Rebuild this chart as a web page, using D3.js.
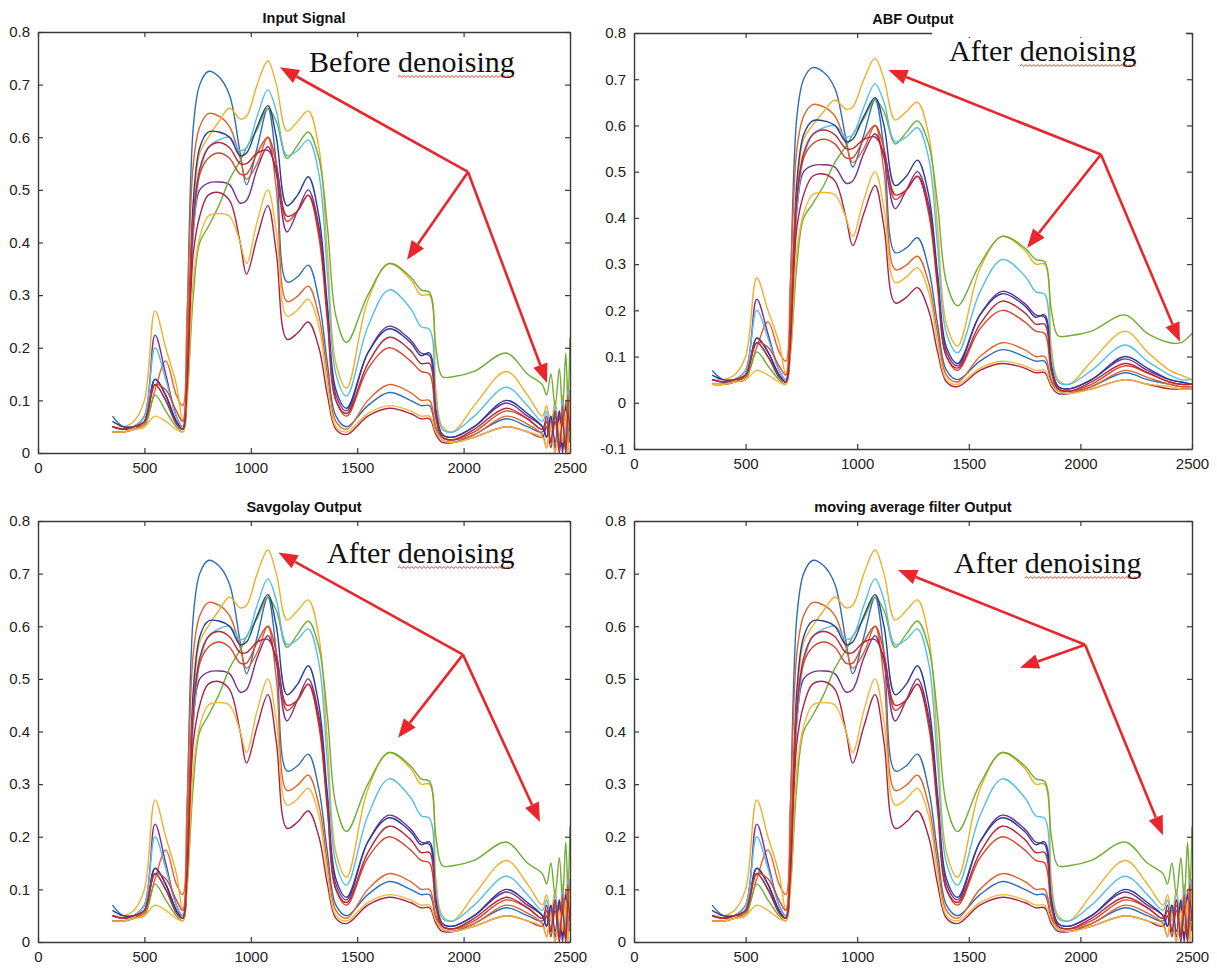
<!DOCTYPE html>
<html>
<head>
<meta charset="utf-8">
<script src="https://cdn.jsdelivr.net/npm/d3@7"></script>
<style>
  body { margin: 0; background: #fff; }
  svg { display: block; font-family: "Liberation Sans", Arial, sans-serif; }
  .title { font-size: 14.5px; font-weight: bold; fill: #111; }
  .note { font-family: "Liberation Serif", "Times New Roman", serif; font-size: 30px; fill: #111; }
</style>
</head>
<body>
<svg id="chart" width="1217" height="971"></svg>
<script>
// wavelengths (nm) shared by every spectrum
const wavelengths = [350, 400, 450, 500, 550, 600, 650, 680, 700, 730,
                     760, 800, 850, 900, 950, 980, 1030, 1080, 1120, 1170,
                     1220, 1270, 1320, 1360, 1400, 1450, 1550, 1650, 1750, 1800,
                     1840, 1870, 1900, 1950, 2050, 2200, 2300, 2400, 2450, 2500];

// reflectance of each sample
const blueHigh = [0.07, 0.05, 0.05, 0.06, 0.13, 0.10, 0.06, 0.045, 0.25, 0.62,
                  0.70, 0.725, 0.715, 0.68, 0.57, 0.51, 0.58, 0.655, 0.55, 0.325,
                  0.335, 0.357, 0.29, 0.17, 0.07, 0.05, 0.09, 0.115, 0.10, 0.09,
                  0.09, 0.045, 0.025, 0.02, 0.035, 0.065, 0.05, 0.04, 0.035, 0.035];
const orangeLow = [0.04, 0.04, 0.045, 0.055, 0.12, 0.175, 0.11, 0.09, 0.25, 0.55,
                   0.62, 0.645, 0.64, 0.62, 0.56, 0.52, 0.55, 0.60, 0.50, 0.288,
                   0.298, 0.317, 0.26, 0.15, 0.06, 0.045, 0.10, 0.13, 0.115, 0.10,
                   0.10, 0.05, 0.03, 0.025, 0.035, 0.07, 0.055, 0.04, 0.035, 0.035];
const yellowTop = [0.05, 0.05, 0.06, 0.10, 0.27, 0.20, 0.13, 0.06, 0.15, 0.45,
                   0.57, 0.60, 0.63, 0.655, 0.635, 0.64, 0.70, 0.745, 0.70, 0.612,
                   0.63, 0.65, 0.58, 0.38, 0.17, 0.123, 0.29, 0.36, 0.33, 0.30,
                   0.30, 0.12, 0.05, 0.04, 0.09, 0.155, 0.11, 0.07, 0.06, 0.05];
const purple = [0.05, 0.045, 0.05, 0.07, 0.224, 0.15, 0.07, 0.05, 0.13, 0.42,
                0.50, 0.513, 0.515, 0.51, 0.475, 0.48, 0.54, 0.582, 0.53, 0.42,
                0.46, 0.50, 0.43, 0.27, 0.11, 0.08, 0.19, 0.241, 0.215, 0.19,
                0.185, 0.08, 0.035, 0.03, 0.05, 0.095, 0.07, 0.05, 0.045, 0.04];
const green = [0.04, 0.04, 0.045, 0.05, 0.11, 0.08, 0.05, 0.04, 0.10, 0.30,
               0.40, 0.43, 0.47, 0.52, 0.555, 0.58, 0.615, 0.655, 0.63, 0.56,
               0.585, 0.61, 0.56, 0.43, 0.26, 0.21, 0.30, 0.36, 0.335, 0.31,
               0.305, 0.20, 0.145, 0.145, 0.155, 0.19, 0.15, 0.13, 0.13, 0.15];
const lightBlue = [0.05, 0.045, 0.05, 0.07, 0.20, 0.14, 0.07, 0.05, 0.13, 0.42,
                   0.53, 0.58, 0.595, 0.60, 0.575, 0.58, 0.64, 0.69, 0.65, 0.565,
                   0.575, 0.595, 0.53, 0.34, 0.15, 0.108, 0.24, 0.31, 0.275, 0.24,
                   0.235, 0.10, 0.045, 0.04, 0.07, 0.125, 0.09, 0.06, 0.05, 0.05];
const darkRedLow = [0.05, 0.045, 0.05, 0.06, 0.14, 0.11, 0.06, 0.045, 0.12, 0.38,
                    0.45, 0.49, 0.495, 0.48, 0.40, 0.34, 0.41, 0.47, 0.38, 0.216,
                    0.228, 0.249, 0.20, 0.11, 0.045, 0.035, 0.07, 0.085, 0.075, 0.065,
                    0.065, 0.035, 0.02, 0.02, 0.03, 0.05, 0.04, 0.03, 0.03, 0.03];
const navy = [0.06, 0.05, 0.05, 0.06, 0.14, 0.11, 0.06, 0.045, 0.14, 0.48,
              0.58, 0.61, 0.61, 0.60, 0.565, 0.57, 0.62, 0.66, 0.60, 0.47,
              0.49, 0.525, 0.45, 0.28, 0.12, 0.085, 0.19, 0.236, 0.21, 0.185,
              0.19, 0.08, 0.035, 0.03, 0.05, 0.10, 0.075, 0.05, 0.045, 0.04];
const orangeRed = [0.04, 0.04, 0.045, 0.06, 0.13, 0.12, 0.08, 0.06, 0.18, 0.45,
                   0.53, 0.56, 0.57, 0.56, 0.53, 0.53, 0.57, 0.60, 0.55, 0.44,
                   0.46, 0.49, 0.41, 0.25, 0.10, 0.07, 0.16, 0.20, 0.175, 0.155,
                   0.15, 0.065, 0.03, 0.025, 0.04, 0.08, 0.065, 0.045, 0.04, 0.04];
const yellowLow = [0.04, 0.04, 0.045, 0.05, 0.07, 0.06, 0.045, 0.04, 0.10, 0.33,
                   0.41, 0.45, 0.455, 0.45, 0.40, 0.36, 0.44, 0.50, 0.42, 0.26,
                   0.272, 0.292, 0.24, 0.13, 0.05, 0.04, 0.075, 0.09, 0.08, 0.07,
                   0.07, 0.04, 0.025, 0.02, 0.03, 0.05, 0.04, 0.035, 0.03, 0.03];
const darkRed = [0.05, 0.045, 0.05, 0.06, 0.13, 0.10, 0.055, 0.045, 0.12, 0.44,
                 0.54, 0.58, 0.59, 0.58, 0.55, 0.55, 0.57, 0.575, 0.54, 0.45,
                 0.46, 0.49, 0.42, 0.26, 0.10, 0.075, 0.17, 0.22, 0.195, 0.17,
                 0.17, 0.07, 0.03, 0.025, 0.045, 0.085, 0.065, 0.045, 0.04, 0.04];

// noisy end of the spectrum in the unfiltered / weakly filtered panels
const tailWavelengths = [2370, 2390, 2410, 2430, 2450, 2465, 2480, 2490, 2500];
const tailValues = [
  [0.04, 0.06, 0.02, 0.07, 0.01, 0.08, 0.02, 0.09, 0.03],
  [0.035, 0.01, 0.06, 0.0, 0.07, 0.01, 0.10, 0.0, 0.12],
  [0.07, 0.09, 0.05, 0.10, 0.03, 0.11, 0.02, 0.14, 0.06],
  [0.05, 0.03, 0.07, 0.02, 0.08, 0.01, 0.09, 0.02, 0.05],
  [0.13, 0.11, 0.15, 0.09, 0.16, 0.08, 0.19, 0.10, 0.22],
  [0.06, 0.08, 0.04, 0.09, 0.02, 0.10, 0.03, 0.12, 0.05],
  [0.03, 0.05, 0.01, 0.06, 0.0, 0.07, 0.01, 0.05, 0.02],
  [0.05, 0.03, 0.07, 0.01, 0.08, 0.0, 0.09, 0.02, 0.06],
  [0.045, 0.06, 0.02, 0.08, 0.01, 0.09, 0.0, 0.11, 0.03],
  [0.03, 0.01, 0.05, 0.0, 0.06, 0.02, 0.08, 0.0, 0.10],
  [0.045, 0.07, 0.02, 0.08, 0.01, 0.06, 0.0, 0.08, 0.04]
];

const spectra = [blueHigh, orangeLow, yellowTop, purple, green, lightBlue,
                 darkRedLow, navy, orangeRed, yellowLow, darkRed];
const colors = ["#2f6db5", "#e0622a", "#eeb02a", "#7b2f90", "#6fae35", "#56bde8",
                "#a8234a", "#253f98", "#d8452a", "#f0b73a", "#b5283a"];

const xTicks = [0, 500, 1000, 1500, 2000, 2500];

const panels = [
  {title: "Input Signal", left: 38, right: 570, top: 32, bottom: 453, yMin: 0, noisy: true,
   note: "Before denoising", noteX: 309, noteY: 72,
   origin: [2021, 0.534], tips: [[1137, 0.733], [1734, 0.367], [2392, 0.133]]},
  {title: "ABF Output", left: 634, right: 1192, top: 33, bottom: 449, yMin: -0.1, noisy: false,
   note: "After denoising", noteX: 949, noteY: 61, gap: [932, 1186],
   origin: [2092, 0.537], tips: [[1140, 0.72], [1761, 0.335], [2446, 0.132]]},
  {title: "Savgolay Output", left: 38, right: 570, top: 521, bottom: 942, yMin: 0, noisy: true,
   note: "After denoising", noteX: 327, noteY: 563,
   origin: [1997, 0.546], tips: [[1130, 0.74], [1692, 0.388], [2359, 0.228]]},
  {title: "moving average filter Output", left: 634, right: 1192, top: 521, bottom: 942, yMin: 0, noisy: true,
   note: "After denoising", noteX: 954, noteY: 573,
   origin: [2021, 0.565], tips: [[1183, 0.707], [1729, 0.521], [2370, 0.203]]}
];

const svg = d3.select("#chart");
const axisColor = "#3a3a3a";

function fmt(d) {
  return String(Math.round(d * 10) / 10);
}

function drawPanel(p, k) {
  const x = d3.scaleLinear().domain([0, 2500]).range([p.left, p.right]);
  const y = d3.scaleLinear().domain([p.yMin, 0.8]).range([p.bottom, p.top]);
  const yTicks = d3.range(Math.round(p.yMin * 10), 9).map(v => v / 10);

  const g = svg.append("g");

  g.append("clipPath").attr("id", "clip" + k)
    .append("rect")
    .attr("x", p.left).attr("y", p.top)
    .attr("width", p.right - p.left).attr("height", p.bottom - p.top);

  // spectra
  const line = d3.line()
    .x(d => x(d[0]))
    .y(d => y(d[1]))
    .curve(d3.curveCatmullRom.alpha(0.5));

  const plot = g.append("g").attr("clip-path", `url(#clip${k})`);
  spectra.forEach((s, i) => {
    let pts = wavelengths.map((w, j) => [w, s[j]]);
    if (p.noisy) {
      pts = pts.filter(d => d[0] < tailWavelengths[0])
        .concat(tailWavelengths.map((w, j) => [w, tailValues[i][j]]));
    }
    plot.append("path")
      .attr("d", line(pts))
      .attr("fill", "none")
      .attr("stroke", colors[i])
      .attr("stroke-width", 1.4)
      .attr("stroke-linejoin", "round");
  });

  // axes, MATLAB box style with inward ticks
  const styleAxis = sel => {
    sel.selectAll(".domain").attr("stroke", axisColor).attr("stroke-width", 1.4);
    sel.selectAll(".tick line").attr("stroke", axisColor).attr("stroke-width", 1.2);
    sel.selectAll(".tick text").attr("fill", "#222")
      .attr("font-size", 15).attr("font-family", "'Liberation Sans', Arial, sans-serif");
  };

  g.append("g").attr("transform", `translate(0,${p.bottom})`)
    .call(d3.axisBottom(x).tickValues(xTicks).tickSize(-5).tickSizeOuter(0).tickPadding(9).tickFormat(d3.format("d")))
    .call(styleAxis);
  g.append("g").attr("transform", `translate(0,${p.top})`)
    .call(d3.axisTop(x).tickValues(xTicks).tickSize(-5).tickSizeOuter(0).tickFormat(""))
    .call(styleAxis);
  g.append("g").attr("transform", `translate(${p.left},0)`)
    .call(d3.axisLeft(y).tickValues(yTicks).tickSize(-5).tickSizeOuter(0).tickPadding(8).tickFormat(fmt))
    .call(styleAxis);
  g.append("g").attr("transform", `translate(${p.right},0)`)
    .call(d3.axisRight(y).tickValues(yTicks).tickSize(-5).tickSizeOuter(0).tickFormat(""))
    .call(styleAxis);

  if (p.gap) {
    g.append("rect")
      .attr("x", p.gap[0]).attr("y", p.top - 3)
      .attr("width", p.gap[1] - p.gap[0]).attr("height", 7)
      .attr("fill", "#fff");
  }

  g.append("text")
    .attr("class", "title")
    .attr("x", (p.left + p.right) / 2)
    .attr("y", p.top - 9)
    .attr("text-anchor", "middle")
    .text(p.title);

  // annotation text with spell-check squiggle under "denoising"
  const note = g.append("text")
    .attr("class", "note")
    .attr("x", p.noteX)
    .attr("y", p.noteY)
    .text(p.note);
  const idx = p.note.indexOf("denoising");
  const nn = note.node();
  const sx = p.noteX + nn.getSubStringLength(0, idx);
  const sw = nn.getSubStringLength(idx, 9);
  let zz = `M${sx},${p.noteY + 5}`;
  for (let t = 2, up = true; t <= sw; t += 2, up = !up) {
    zz += ` L${sx + t},${p.noteY + (up ? 3.5 : 5.5)}`;
  }
  g.append("path").attr("d", zz).attr("fill", "none")
    .attr("stroke", "#e0262a").attr("stroke-width", 0.9);

  // red arrows
  const ox = x(p.origin[0]), oy = y(p.origin[1]);
  p.tips.forEach(t => {
    const tx = x(t[0]), ty = y(t[1]);
    const dx = tx - ox, dy = ty - oy;
    const len = Math.hypot(dx, dy);
    const ux = dx / len, uy = dy / len;
    const headL = 19, headW = 7.5;
    const bx = tx - ux * headL, by = ty - uy * headL;
    g.append("line")
      .attr("x1", ox).attr("y1", oy).attr("x2", bx).attr("y2", by)
      .attr("stroke", "#e8262b").attr("stroke-width", 2.6);
    g.append("path")
      .attr("d", `M${tx},${ty} L${bx - uy * headW},${by + ux * headW} L${bx + uy * headW},${by - ux * headW} Z`)
      .attr("fill", "#e8262b");
  });
}

panels.forEach(drawPanel);
</script>
</body>
</html>
